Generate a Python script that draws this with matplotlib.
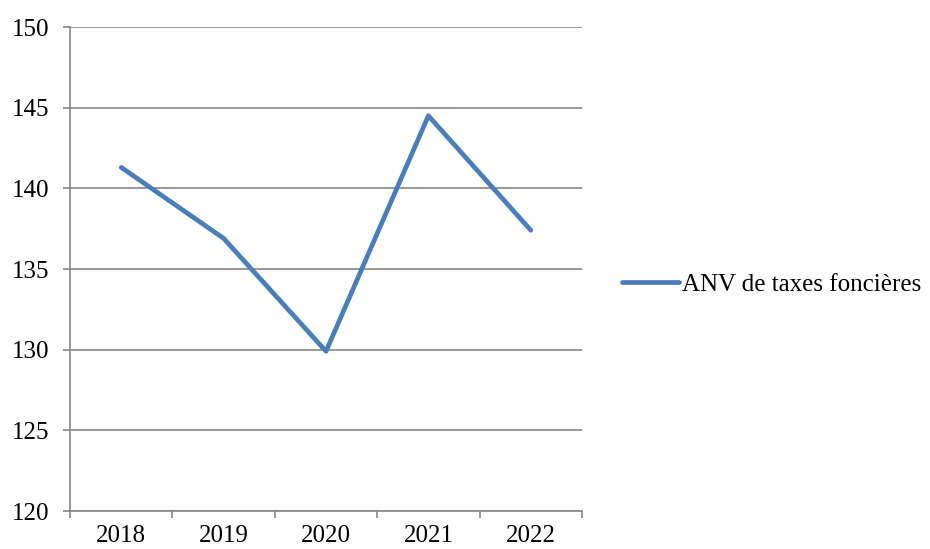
import matplotlib.pyplot as plt
from matplotlib.ticker import FixedLocator, NullFormatter

years = ["2018", "2019", "2020", "2021", "2022"]
anv_taxes = [141.3, 136.9, 129.9, 144.5, 137.4]
series_label = "ANV de taxes foncières"

LINE_COLOR = "#4a7ebb"
GRID_COLOR = "#868686"
FONT_SIZE = 18

plt.rcParams["font.family"] = ["Liberation Serif", "DejaVu Serif"]

fig = plt.figure(figsize=(9.3, 5.49), dpi=100)
ax = fig.add_axes([0.0753, 0.0692, 0.5505, 0.8816])

x = list(range(len(years)))
ax.plot(x, anv_taxes, color=LINE_COLOR, linewidth=3.4, solid_capstyle="round",
        label=series_label)

ax.set_xlim(-0.5, len(years) - 0.5)
ax.set_ylim(120, 150)
ax.set_yticks(range(120, 151, 5))
ax.yaxis.grid(True, color=GRID_COLOR, linewidth=1.2)
ax.set_axisbelow(True)

# category labels in the middle, tick marks on the boundaries
ax.set_xticks(x)
ax.set_xticklabels(years)
ax.tick_params(axis="x", which="major", length=0, pad=10, labelsize=FONT_SIZE)
ax.xaxis.set_minor_locator(FixedLocator([i + 0.5 for i in range(-1, len(years))]))
ax.xaxis.set_minor_formatter(NullFormatter())
ax.tick_params(axis="x", which="minor", length=5, width=1.2, color=GRID_COLOR)
ax.tick_params(axis="y", length=5, width=1.2, color=GRID_COLOR, labelsize=FONT_SIZE, pad=10)

for side in ("top", "right"):
    ax.spines[side].set_visible(False)
for side in ("left", "bottom"):
    ax.spines[side].set_color(GRID_COLOR)
    ax.spines[side].set_linewidth(1.2)

ax.legend(loc="center left", bbox_to_anchor=(1.078, 0.467), frameon=False,
          fontsize=FONT_SIZE, handlelength=2.3, handletextpad=0.12,
          borderpad=0, borderaxespad=0)

fig.savefig("out.png", dpi=100)
